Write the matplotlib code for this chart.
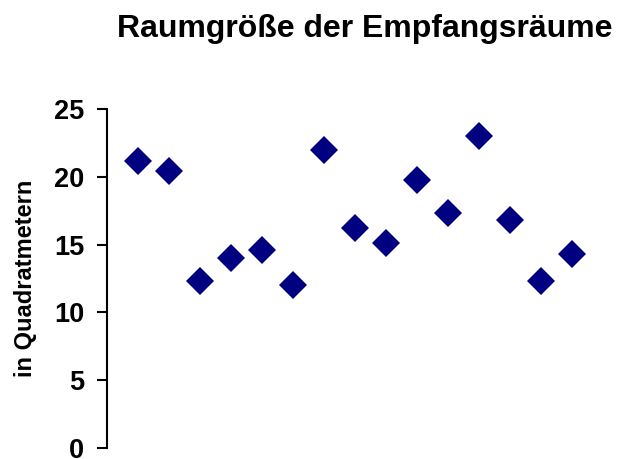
import matplotlib.pyplot as plt

# Empfangsräume, Werte in Quadratmetern
raum_nr = list(range(1, 16))
groesse = [21.2, 20.4, 12.3, 14.0, 14.6, 12.0, 22.0, 16.2, 15.1, 19.8, 17.3, 23.0, 16.8, 12.3, 14.3]
y_ticks = [0, 5, 10, 15, 20, 25]

plt.rcParams['font.family'] = ['Liberation Sans', 'DejaVu Sans']

fig = plt.figure(figsize=(6.18, 4.59), dpi=100)
W, H = 618, 459
# plot area in pixels: left 107, right 603, top 109, bottom 448
ax = fig.add_axes([107 / W, 1 - 448 / H, (603 - 107) / W, (448 - 109) / H])

ax.plot(raum_nr, groesse, linestyle='none', marker='D', markersize=14.5,
        color='#000080', markeredgewidth=0)

ax.set_xlim(0, 16)
ax.set_ylim(0, 25)
ax.set_yticks(y_ticks)
ax.set_xticks([])
ax.tick_params(axis='y', direction='out', length=7.5, width=1.5, labelsize=19.5, pad=9)
for lbl in ax.get_yticklabels():
    lbl.set_fontweight('bold')

for s in ['top', 'right', 'bottom']:
    ax.spines[s].set_visible(False)
ax.spines['left'].set_linewidth(1.5)

ax.set_ylabel('in Quadratmetern', fontsize=17, fontweight='bold', labelpad=12)
fig.text(365 / W, 1 - 29 / H, 'Raumgröße der Empfangsräume', ha='center', va='center',
         fontsize=23, fontweight='bold')

fig.savefig('out.png', dpi=100)
